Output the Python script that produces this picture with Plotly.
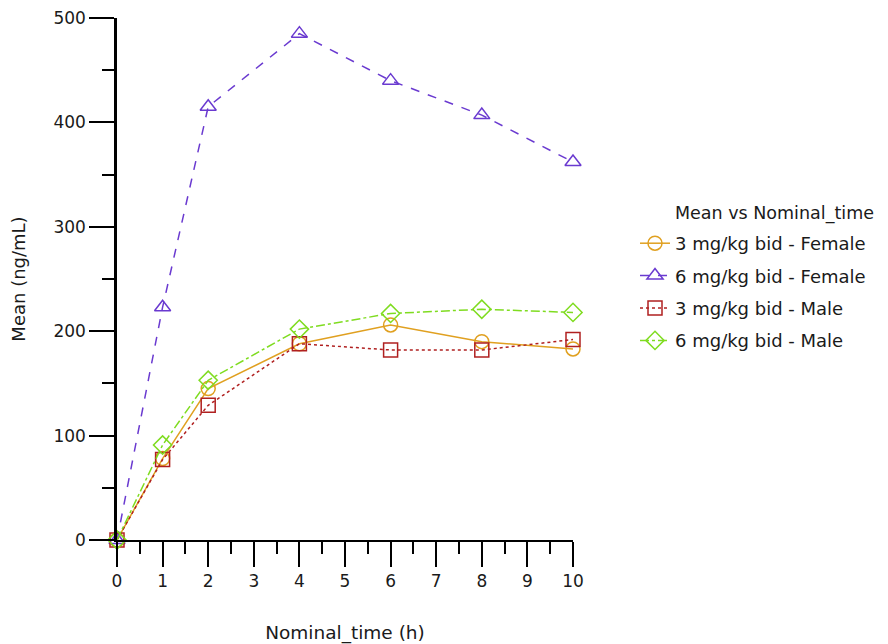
import plotly.graph_objects as go

time_h = [0, 1, 2, 4, 6, 8, 10]
female_3 = [0, 78, 145, 188, 206, 190, 183]
female_6 = [0, 223, 415, 485, 440, 407, 362]
male_3 = [0, 77, 129, 188, 182, 182, 192]
male_6 = [0, 91, 153, 202, 217, 221, 218]

series = [
    ("3 mg/kg bid - Female", female_3, "#E0A020", "solid", "circle-open"),
    ("6 mg/kg bid - Female", female_6, "#6A3AD0", "dash", "triangle-up-open"),
    ("3 mg/kg bid - Male", male_3, "#B02020", "dot", "square-open"),
    ("6 mg/kg bid - Male", male_6, "#7FDC20", "dashdot", "diamond-open"),
]

fig = go.Figure()
for i, (name, vals, color, dash, sym) in enumerate(series):
    fig.add_trace(go.Scatter(
        x=time_h, y=vals, name=name, mode="lines+markers",
        line=dict(color=color, width=1.5, dash=dash),
        marker=dict(symbol=sym, size=14, color=color, line=dict(width=1.5, color=color)),
        cliponaxis=False, legendgroup=f"g{i}",
    ))

font = "DejaVu Sans"
# page body adds an 8px margin, so the figure is drawn 8px right/down
W, H = 880, 636
L, R, T, B = 109, 315, 10, 104

def px_x(p):
    return (p - 117) / 456

def px_y(p):
    return (540 - p) / 522

fig.update_layout(
    width=W, height=H,
    paper_bgcolor="white", plot_bgcolor="white",
    margin=dict(l=L, r=R, t=T, b=B, autoexpand=False),
    font=dict(family=font, size=17, color="#1a1a1a"),
    showlegend=True,
    legend=dict(
        x=px_x(635), xanchor="left", y=px_y(225), yanchor="top",
        font=dict(size=18), tracegroupgap=6, traceorder="grouped",
        bgcolor="rgba(0,0,0,0)",
    ),
    annotations=[dict(
        text="Mean vs Nominal_time", xref="paper", yref="paper",
        x=px_x(673), y=px_y(214), xanchor="left", yanchor="middle",
        showarrow=False, font=dict(size=17.5, family=font, color="#1a1a1a"),
    )],
    xaxis=dict(
        range=[0, 10], tickmode="linear", tick0=0, dtick=1, automargin=False,
        showgrid=False, zeroline=False, showline=True, linecolor="black", linewidth=2,
        ticks="outside", ticklen=25, tickwidth=1.5, tickcolor="black",
        minor=dict(dtick=0.5, ticks="outside", ticklen=12, tickwidth=1.5, tickcolor="black", showgrid=False),
        title=dict(text="Nominal_time (h)", font=dict(size=18.5), standoff=40),
        tickfont=dict(size=17), ticklabeloverflow="allow",
    ),
    yaxis=dict(
        range=[0, 500], tickmode="linear", tick0=0, dtick=100, automargin=False,
        showgrid=False, zeroline=False, showline=True, linecolor="black", linewidth=2.5,
        ticks="outside", ticklen=25, tickwidth=1.5, tickcolor="black",
        minor=dict(dtick=50, ticks="outside", ticklen=12, tickwidth=1.5, tickcolor="black", showgrid=False),
        title=dict(text="Mean (ng/mL)", font=dict(size=18), standoff=30),
        tickfont=dict(size=17), ticklabeloverflow="allow",
    ),
)

fig.write_html("out.html")
